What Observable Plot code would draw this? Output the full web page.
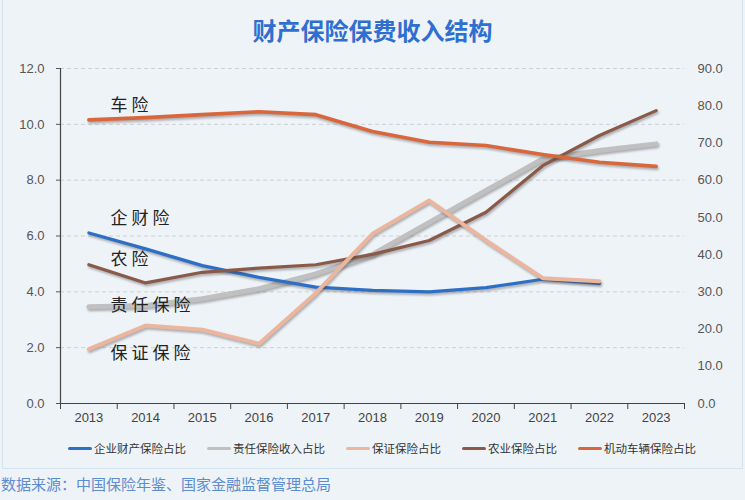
<!DOCTYPE html>
<html><head><meta charset="utf-8">
<script src="https://cdn.jsdelivr.net/npm/d3@7"></script>
<script src="https://cdn.jsdelivr.net/npm/@observablehq/plot@0.6"></script>
<style>
body{margin:0;background:#eef3f8;}
#wrap{position:relative;width:745px;height:500px;overflow:hidden;background:#eef3f8;}
#frame{position:absolute;left:2px;top:-1px;width:739px;height:468px;border:1px solid #d3e3ef;}
#title{position:absolute;top:12px;left:0;width:745px;text-align:center;font:bold 24px "Noto Sans CJK SC",sans-serif;color:#2f6fcf;}
#chart{position:absolute;left:0;top:50px;}
#legend{position:absolute;top:440px;left:68px;display:flex;font:11.5px "Noto Sans CJK SC",sans-serif;color:#333;white-space:nowrap;}
#legend .it{display:flex;align-items:center;margin-right:21px;}
#legend .sw{width:24px;height:3px;border-radius:2px;margin-right:2px;}
#source{position:absolute;top:473px;left:1px;font:15px "Noto Sans CJK SC",sans-serif;color:#5b8dd0;}
</style></head>
<body>
<div id="wrap">
<div id="frame"></div>
<div id="title"></div>
<div id="chart"></div>
<div id="legend"></div>
<div id="source"></div>
</div>
<script>
const titleText = "财产保险保费收入结构";
const sourceText = "数据来源：中国保险年鉴、国家金融监督管理总局";
const years = [2013, 2014, 2015, 2016, 2017, 2018, 2019, 2020, 2021, 2022, 2023];
// left axis series (%)
const enterprise = [6.11, 5.54, 4.94, 4.52, 4.17, 4.05, 4.0, 4.15, 4.45, 4.3, null];
const liability  = [3.47, 3.51, 3.75, 4.11, 4.64, 5.34, 6.49, 7.63, 8.76, 9.06, 9.30];
const surety     = [1.95, 2.79, 2.64, 2.14, 3.95, 6.08, 7.27, 5.84, 4.49, 4.38, null];
const agri       = [4.97, 4.32, 4.70, 4.85, 4.97, 5.34, 5.84, 6.85, 8.52, 9.60, 10.49];
// right axis series (%)
const motor      = [76.2, 76.8, 77.6, 78.4, 77.6, 73.1, 70.2, 69.3, 66.9, 64.8, 63.7];
const leftTicks  = [0, 2, 4, 6, 8, 10, 12];
const rightTicks = [0, 10, 20, 30, 40, 50, 60, 70, 80, 90];
const seriesNames = ["企业财产保险占比", "责任保险收入占比", "保证保险占比", "农业保险占比", "机动车辆保险占比"];
const seriesColors = ["#2e6fc6", "#c0c0c0", "#ecb69e", "#8a5a48", "#d9673b"];
const annotations = [
  {text: "车险", year: 2013.38, value: 10.67},
  {text: "企财险", year: 2013.38, value: 6.63},
  {text: "农险", year: 2013.38, value: 5.16},
  {text: "责任保险", year: 2013.38, value: 3.51},
  {text: "保证保险", year: 2013.38, value: 1.79}
];

document.getElementById("title").textContent = titleText;
document.getElementById("source").textContent = sourceText;

const k = 12 / 90; // right axis -> left axis units
const series = [
  {name: seriesNames[0], values: enterprise, color: seriesColors[0], w: 3.2, right: false},
  {name: seriesNames[1], values: liability, color: seriesColors[1], w: 5, right: false},
  {name: seriesNames[2], values: surety, color: seriesColors[2], w: 4, right: false},
  {name: seriesNames[3], values: agri, color: seriesColors[3], w: 3.2, right: false},
  {name: seriesNames[4], values: motor, color: seriesColors[4], w: 3.6, right: true}
];
const rowsOf = s => years.map((yr, i) => ({year: yr, v: s.values[i]})).filter(d => d.v != null);
const drawOrder = [1, 0, 3, 2, 4];
const boundaries = years.map(y => y - 0.5).concat([years[years.length - 1] + 0.5]);

const lineMarks = drawOrder.map(i => {
  const s = series[i];
  return Plot.line(rowsOf(s), {
    x: "year", y: d => s.right ? d.v * k : d.v,
    stroke: s.color, strokeWidth: s.w, strokeLinejoin: "round", strokeLinecap: "round"
  });
});

const chart = Plot.plot({
  width: 745, height: 383,
  marginLeft: 60, marginRight: 61, marginTop: 18, marginBottom: 30,
  style: {fontFamily: "'Liberation Sans', Arial, sans-serif", fontSize: "13px", background: "transparent", color: "#555"},
  x: {type: "linear", domain: [boundaries[0], boundaries[boundaries.length - 1]]},
  y: {domain: [0, 12]},
  marks: [
    Plot.ruleY(leftTicks.filter(v => v > 0), {stroke: "#cdd0d4", strokeDasharray: "4,3", strokeWidth: 1}),
    Plot.axisY({anchor: "left", ticks: leftTicks, tickFormat: d3.format(".1f"), tickSize: 4, tickPadding: 12, label: null, stroke: "#555", fill: "#555"}),
    Plot.axisY({anchor: "right", ticks: rightTicks.map(v => v * k), tickFormat: v => (v / k).toFixed(1), tickSize: 0, tickPadding: 13, label: null, fill: "#555"}),
    Plot.axisX({ticks: years, tickFormat: d => String(d), tickSize: 0, tickPadding: 9, label: null, fill: "#444"}),
    Plot.axisX({ticks: boundaries, tickFormat: () => "", tickSize: 6, label: null, stroke: "#444"}),
    Plot.ruleX([boundaries[0]], {stroke: "#444", strokeWidth: 1.2}),
    Plot.ruleY([0], {stroke: "#444", strokeWidth: 1.2}),
    ...lineMarks,
    Plot.text(annotations, {x: "year", y: "value", text: "text", textAnchor: "start", fontSize: 17, fill: "#222", fontFamily: "'Noto Sans CJK SC', sans-serif"})
  ]
});
document.getElementById("chart").appendChild(chart);

// drop shadows on the lines, spacing on annotation labels
d3.select(chart).selectAll('g[aria-label="line"] path')
  .style("filter", "drop-shadow(1px 2.5px 1.2px rgba(60,60,60,0.38))");
d3.select(chart).selectAll('g[aria-label="text"] text')
  .style("letter-spacing", "4px");

// legend
const lg = d3.select("#legend");
series.forEach(s => {
  const it = lg.append("div").attr("class", "it");
  it.append("div").attr("class", "sw").style("background", s.color);
  it.append("span").text(s.name);
});
</script>
</body></html>
